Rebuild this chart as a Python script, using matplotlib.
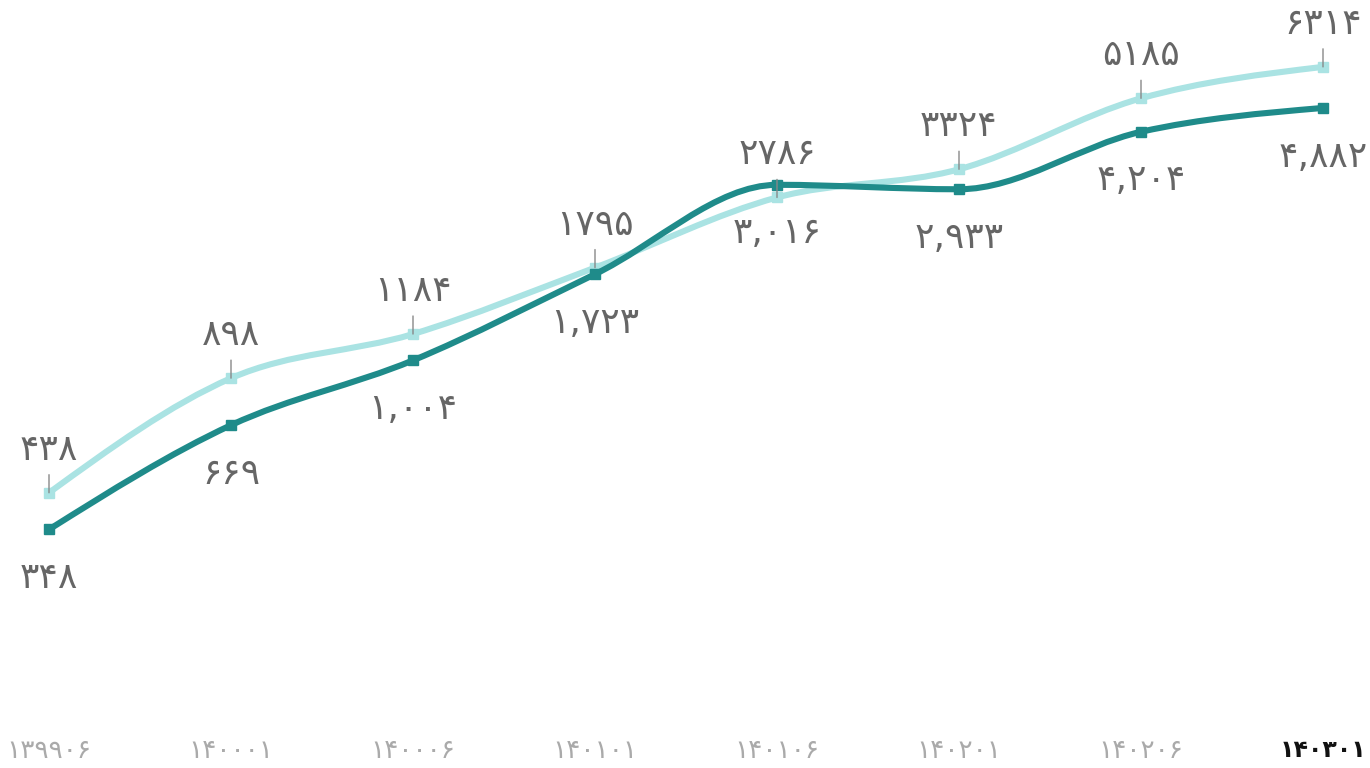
import numpy as np
import matplotlib
matplotlib.use('Agg')
import matplotlib.pyplot as plt
from matplotlib.path import Path
from matplotlib.patches import PathPatch

plt.rcParams['font.family'] = ['DejaVu Sans']

# data
periods = ['۱۳۹۹۰۶', '۱۴۰۰۰۱', '۱۴۰۰۰۶', '۱۴۰۱۰۱', '۱۴۰۱۰۶', '۱۴۰۲۰۱', '۱۴۰۲۰۶', '۱۴۰۳۰۱']
light_vals = [438, 898, 1184, 1795, 2786, 3324, 5185, 6314]
dark_vals = [348, 669, 1004, 1723, 3016, 2933, 4204, 4882]

light_col = '#aae3e3'
dark_col = '#1f8b8a'
label_col = '#666666'

fa_digits = str.maketrans('0123456789', '۰۱۲۳۴۵۶۷۸۹')


def fa(v, comma=False):
    s = f'{v:,}' if comma else str(v)
    return s.translate(fa_digits)


def monotone_path(xs, ys):
    # monotone-x cubic through points, done in (x, log y) space
    x = np.asarray(xs, float)
    y = np.log10(np.asarray(ys, float))
    n = len(x)
    h = np.diff(x)
    s = np.diff(y) / h
    t = np.zeros(n)
    for i in range(1, n - 1):
        p = (s[i - 1] * h[i] + s[i] * h[i - 1]) / (h[i - 1] + h[i])
        t[i] = (np.sign(s[i - 1]) + np.sign(s[i])) * min(abs(s[i - 1]), abs(s[i]), 0.5 * abs(p))
    t[0] = (3 * s[0] - t[1]) / 2
    t[-1] = (3 * s[-1] - t[-2]) / 2
    verts = [(x[0], y[0])]
    codes = [Path.MOVETO]
    for i in range(n - 1):
        dx = h[i] / 3
        verts += [(x[i] + dx, y[i] + dx * t[i]),
                  (x[i + 1] - dx, y[i + 1] - dx * t[i + 1]),
                  (x[i + 1], y[i + 1])]
        codes += [Path.CURVE4] * 3
    verts = np.array(verts)
    verts[:, 1] = 10 ** verts[:, 1]
    return Path(verts, codes)


fig = plt.figure(figsize=(13.7, 7.68), dpi=100)
ax = fig.add_axes([0, 38 / 768, 1, 730 / 768])
ax.set_yscale('log')

xs = np.arange(len(periods))

for vals, col, z in [(light_vals, light_col, 2), (dark_vals, dark_col, 3)]:
    ax.add_patch(PathPatch(monotone_path(xs, vals), facecolor='none',
                           edgecolor=col, lw=4.4, capstyle='butt', zorder=z))
    ax.plot(xs, vals, ls='none', marker='s', ms=7, color=col, zorder=z)

for i in xs:
    ax.annotate('', xy=(i, light_vals[i]), xytext=(0, 13), textcoords='offset points',
                arrowprops=dict(arrowstyle='-', color='#888888', lw=1, shrinkA=0, shrinkB=0),
                zorder=5)
    ax.annotate(fa(light_vals[i]), xy=(i, light_vals[i]), xytext=(0, 31),
                textcoords='offset points', ha='center', va='center',
                fontsize=26, color=label_col)
    ax.annotate(fa(dark_vals[i], comma=True), xy=(i, dark_vals[i]), xytext=(0, -35),
                textcoords='offset points', ha='center', va='center',
                fontsize=26, color=label_col)

ax.set_xlim(-49 / 182, (1370 - 49) / 182)
ax.set_ylim(10 ** ((1463.5 - 730) / 367.5), 10 ** (1463.5 / 367.5))

ax.set_xticks(xs)
ax.set_xticklabels(periods, fontsize=19, color='#aaaaaa')
last = ax.get_xticklabels()[-1]
last.set_color('#111111')
last.set_fontweight('bold')
last.set_fontsize(17)
ax.tick_params(axis='x', length=0, pad=6)
ax.set_yticks([])
ax.yaxis.set_minor_locator(matplotlib.ticker.NullLocator())
for sp in ax.spines.values():
    sp.set_visible(False)

fig.savefig('out.png', dpi=100)
